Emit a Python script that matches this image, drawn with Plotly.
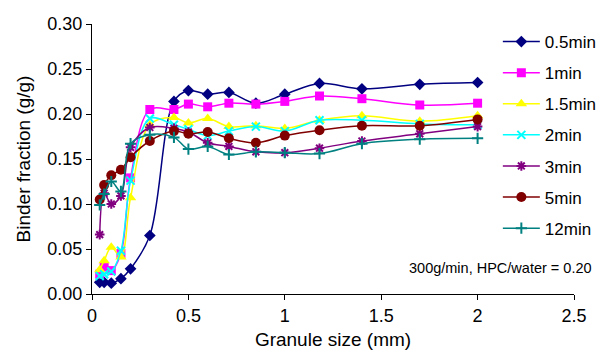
import plotly.graph_objects as go

# Granule size (mm) - sieve fractions
sizes = [0.04, 0.063, 0.1, 0.15, 0.2, 0.3, 0.425, 0.5, 0.6, 0.71, 0.85, 1.0, 1.18, 1.4, 1.7, 2.0]

series_names = ["0.5min", "1min", "1.5min", "2min", "3min", "5min", "12min"]

t05 = [0.013, 0.013, 0.012, 0.017, 0.028, 0.065, 0.214, 0.226, 0.222, 0.224, 0.212, 0.222, 0.234, 0.228, 0.233, 0.235]
t1 = [0.022, 0.030, 0.026, 0.045, 0.129, 0.205, 0.205, 0.211, 0.208, 0.212, 0.211, 0.214, 0.220, 0.217, 0.210, 0.212]
t15 = [0.027, 0.037, 0.052, 0.041, 0.107, 0.188, 0.196, 0.190, 0.195, 0.186, 0.187, 0.184, 0.193, 0.198, 0.192, 0.198]
t2 = [0.020, 0.022, 0.025, 0.048, 0.126, 0.195, 0.188, 0.183, 0.176, 0.181, 0.186, 0.181, 0.193, 0.193, 0.189, 0.188]
t3 = [0.066, 0.112, 0.100, 0.109, 0.163, 0.185, 0.184, 0.180, 0.168, 0.164, 0.158, 0.157, 0.162, 0.170, 0.178, 0.186]
t5 = [0.105, 0.121, 0.132, 0.138, 0.152, 0.170, 0.181, 0.178, 0.180, 0.173, 0.168, 0.176, 0.182, 0.187, 0.187, 0.194]
t12 = [0.099, 0.111, 0.125, 0.114, 0.167, 0.177, 0.174, 0.161, 0.164, 0.155, 0.158, 0.157, 0.156, 0.167, 0.172, 0.173]

values = [t05, t1, t15, t2, t3, t5, t12]
colors = ["#000080", "#FF00FF", "#FFFF00", "#00FFFF", "#800080", "#800000", "#008080"]
symbols = ["diamond", "square", "triangle-up", "x-thin-open", "asterisk-open", "circle", "cross-thin-open"]
msizes = [9, 9, 10, 8, 8, 10, 8]

FONT = "Liberation Sans, Arial, sans-serif"

fig = go.Figure()
for name, ys, c, s, ms in zip(series_names, values, colors, symbols, msizes):
    open_sym = s.endswith("open")
    fig.add_trace(go.Scatter(
        x=sizes, y=ys, name=name, legendgroup=name,
        mode="lines+markers",
        line=dict(color=c, width=1.5, shape="spline", smoothing=1.0),
        marker=dict(symbol=s, size=ms, color=c,
                    line=dict(color=c, width=2 if open_sym else 0)),
    ))

fig.add_annotation(
    text="300g/min, HPC/water = 0.20",
    xref="paper", yref="paper", x=1.042, y=0.095,
    xanchor="right", yanchor="middle", showarrow=False,
    font=dict(family=FONT, size=14.5, color="black"),
)

fig.update_layout(
    width=606, height=356,
    margin=dict(l=84, r=26, t=16, b=70),
    paper_bgcolor="white", plot_bgcolor="white",
    font=dict(family=FONT, size=18, color="black"),
    showlegend=True,
    legend=dict(
        x=0.842, y=1.0, xanchor="left", yanchor="top",
        bgcolor="rgba(0,0,0,0)", borderwidth=0,
        font=dict(family=FONT, size=17, color="black"),
        tracegroupgap=6, itemwidth=37,
    ),
    xaxis=dict(
        range=[0, 2.5], dtick=0.5, tick0=0, automargin=False,
        showline=True, linecolor="black", linewidth=1,
        ticks="outside", ticklen=5, tickcolor="black",
        showgrid=False, zeroline=False,
        title=dict(text="Granule size (mm)", standoff=8,
                   font=dict(family=FONT, size=19)),
        tickfont=dict(family=FONT, size=18),
    ),
    yaxis=dict(
        range=[0, 0.3], dtick=0.05, tick0=0, tickformat=".2f", automargin=False,
        showline=True, linecolor="black", linewidth=1,
        ticks="outside", ticklen=5, tickcolor="black",
        showgrid=False, zeroline=False,
        title=dict(text="Binder fraction (g/g)", standoff=11,
                   font=dict(family=FONT, size=19)),
        tickfont=dict(family=FONT, size=18),
    ),
)

fig.write_html("out.html")
